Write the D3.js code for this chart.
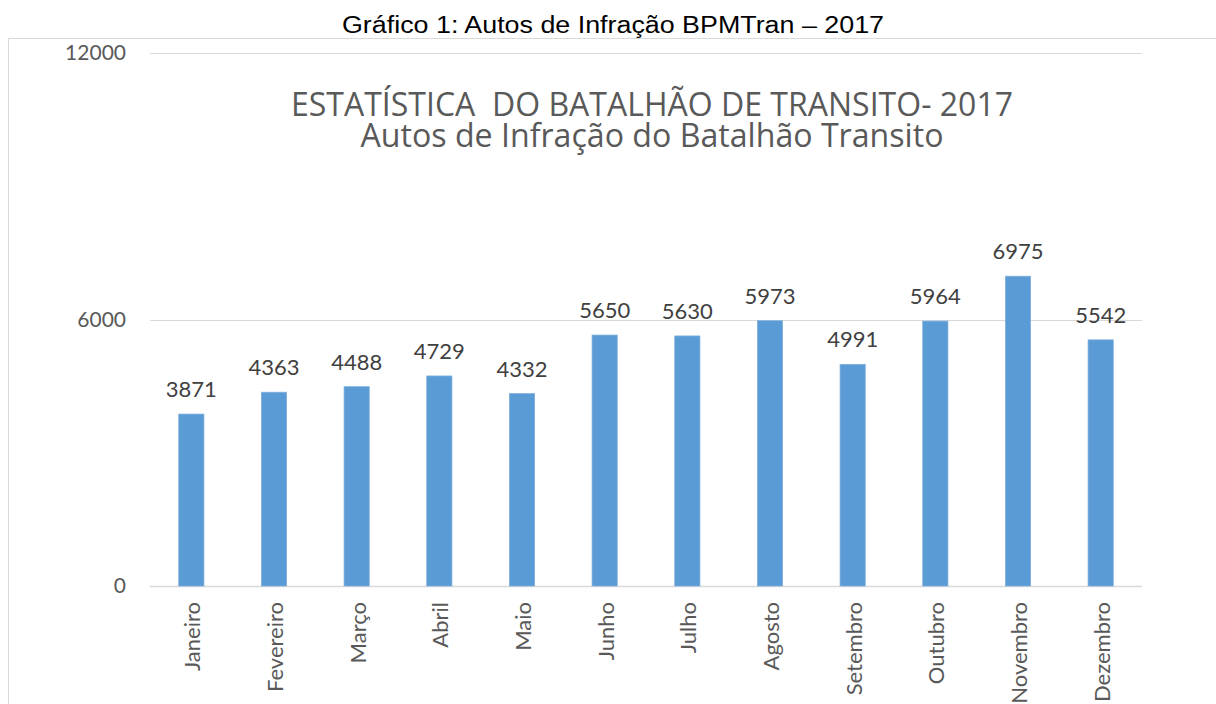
<!DOCTYPE html>
<html>
<head>
<meta charset="utf-8">
<script src="https://cdn.jsdelivr.net/npm/d3@7"></script>
<style>
  html, body { margin: 0; padding: 0; background: #ffffff; }
  svg { display: block; }
</style>
</head>
<body>
<svg id="chart" width="1216" height="704"></svg>
<script>
// ---- data ----
const caption = "Gráfico 1: Autos de Infração BPMTran – 2017";
const titleLines = ["ESTATÍSTICA  DO BATALHÃO DE TRANSITO- 2017", "Autos de Infração do Batalhão Transito"];
const months = ["Janeiro", "Fevereiro", "Março", "Abril", "Maio", "Junho", "Julho", "Agosto", "Setembro", "Outubro", "Novembro", "Dezembro"];
const values = [3871, 4363, 4488, 4729, 4332, 5650, 5630, 5973, 4991, 5964, 6975, 5542];
const yTicks = [0, 6000, 12000];

// ---- layout ----
const svg = d3.select("#chart");
const plot = { left: 150, right: 1142, top: 53, bottom: 586 };
const font = "Lato, 'Open Sans', sans-serif";

// frame border
svg.append("path")
  .attr("d", "M8.5,704 L8.5,38.5 L1216,38.5")
  .attr("fill", "none")
  .attr("stroke", "#d9d9d9")
  .attr("stroke-width", 1);

// caption above frame
svg.append("text")
  .attr("x", 613).attr("y", 33)
  .attr("text-anchor", "middle")
  .attr("font-family", "'Liberation Sans', Arial, sans-serif")
  .attr("font-size", 23)
  .attr("fill", "#000")
  .attr("textLength", 542)
  .attr("lengthAdjust", "spacingAndGlyphs")
  .text(caption);

// scales
const x = d3.scaleBand()
  .domain(months)
  .range([plot.left, plot.right])
  .paddingInner(0.695)
  .paddingOuter(0.3475);

const y = d3.scaleLinear()
  .domain([0, 12000])
  .range([plot.bottom, plot.top]);

// gridlines
svg.append("g")
  .selectAll("line")
  .data(yTicks)
  .join("line")
  .attr("x1", plot.left).attr("x2", plot.right)
  .attr("y1", d => Math.round(y(d)) + 0.5)
  .attr("y2", d => Math.round(y(d)) + 0.5)
  .attr("stroke", "#d9d9d9")
  .attr("stroke-width", d => d === 0 ? 1.5 : 1);

// y axis labels
const yAxis = d3.axisLeft(y).tickValues(yTicks).tickSize(0).tickPadding(0).tickFormat(d3.format("d"));
const yg = svg.append("g").attr("transform", "translate(126,0)").call(yAxis);
yg.select(".domain").remove();
yg.selectAll("text")
  .attr("font-family", font)
  .attr("font-size", 21)
  .attr("fill", "#595959");

// bars
svg.append("g")
  .selectAll("rect")
  .data(values)
  .join("rect")
  .attr("x", (d, i) => x(months[i]))
  .attr("y", d => y(d))
  .attr("width", x.bandwidth())
  .attr("height", d => y(0) - y(d))
  .attr("fill", "#5b9bd5")
  .attr("stroke", "#7fb0df")
  .attr("stroke-width", 0.75);

// data labels
svg.append("g")
  .selectAll("text")
  .data(values)
  .join("text")
  .attr("x", (d, i) => x(months[i]) + x.bandwidth() / 2)
  .attr("y", d => y(d) - 17)
  .attr("text-anchor", "middle")
  .attr("font-family", font)
  .attr("font-size", 22)
  .attr("fill", "#404040")
  .text(d => d);

// x axis labels (rotated)
const xAxis = d3.axisBottom(x).tickSize(0).tickPadding(0);
const xg = svg.append("g").attr("transform", `translate(0,${plot.bottom})`).call(xAxis);
xg.select(".domain").remove();
xg.selectAll("text")
  .attr("font-family", font)
  .attr("font-size", 22)
  .attr("fill", "#595959")
  .attr("text-anchor", "end")
  .attr("transform", "translate(1,16) rotate(-90)")
  .attr("x", 0).attr("y", 0)
  .attr("dy", "0.36em");

// chart title (one text element, two lines)
const title = svg.append("text")
  .attr("text-anchor", "middle")
  .attr("font-family", "'Open Sans', sans-serif")
  .attr("font-size", 33)
  .attr("fill", "#595959")
  .style("white-space", "pre");
title.selectAll("tspan")
  .data(titleLines)
  .join("tspan")
  .attr("x", 652)
  .attr("y", (d, i) => i === 0 ? 116 : 147)
  .attr("textLength", (d, i) => i === 0 ? 722 : 583)
  .attr("lengthAdjust", "spacingAndGlyphs")
  .text(d => d);
</script>
</body>
</html>
